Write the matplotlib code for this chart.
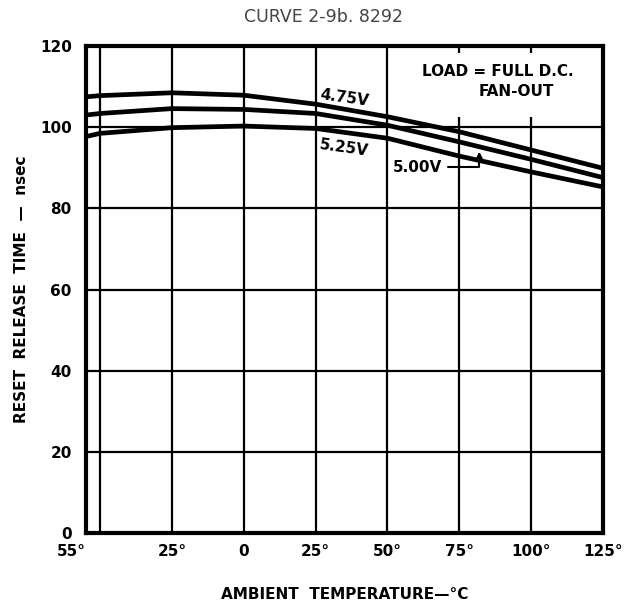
import numpy as np
import matplotlib
matplotlib.use("Agg")
import matplotlib.pyplot as plt
import matplotlib.transforms as mtransforms
from matplotlib.patches import Rectangle

# curve values
temps = [-55, -50, -25, 0, 25, 50, 75, 100, 125]
v475 = [107.5, 107.8, 108.5, 107.9, 105.7, 102.6, 98.9, 94.4, 89.9]
v500 = [103.0, 103.4, 104.6, 104.4, 103.4, 100.5, 96.4, 92.1, 87.6]
v525 = [97.7, 98.5, 99.9, 100.3, 99.7, 97.3, 92.9, 89.0, 85.3]

xgrid = [-50, -25, 0, 25, 50, 75, 100]
ygrid = [20, 40, 60, 80, 100]
xticks = [-55, -25, 0, 25, 50, 75, 100, 125]
xticklabels = ["55°", "25°", "0", "25°", "50°", "75°", "100°", "125°"]
yticks = [0, 20, 40, 60, 80, 100, 120]

fig = plt.figure(figsize=(6.4, 6.07), dpi=100)
ax = fig.add_axes([0.134, 0.122, 0.808, 0.802])
ax.set_xlim(-55, 125)
ax.set_ylim(0, 120)

for x in xgrid:
    ax.axvline(x, color="black", lw=1.6, zorder=1)
for y in ygrid:
    ax.axhline(y, color="black", lw=1.6, zorder=1)

# blank area behind the load note
ax.add_patch(Rectangle((52, 102.5), 72, 15.8, facecolor="white",
                       edgecolor="none", zorder=2))

for vals in (v475, v500, v525):
    ax.plot(temps, vals, color="black", lw=3.4, solid_capstyle="butt", zorder=3)

for s in ax.spines.values():
    s.set_linewidth(3)
    s.set_zorder(5)

ax.set_xticks(xticks)
ax.set_xticklabels(xticklabels, fontsize=11, fontweight="bold")
ax.set_yticks(yticks)
ax.set_yticklabels([str(v) for v in yticks], fontsize=11, fontweight="bold")
ax.tick_params(length=0, pad=8)
ax.tick_params(axis="y", pad=10)
lab0 = ax.get_xticklabels()[0]
lab0.set_transform(lab0.get_transform() + mtransforms.ScaledTranslation(-0.14, 0, fig.dpi_scale_trans))

ax.set_xlabel("AMBIENT  TEMPERATURE—°C", fontsize=11, fontweight="bold", labelpad=20)
ax.set_ylabel("RESET  RELEASE  TIME  —  nsec", fontsize=11, fontweight="bold", labelpad=8)

fig.text(0.505, 0.972, "CURVE 2-9b. 8292", ha="center", va="center",
         fontsize=12.5, color="#444444", family="DejaVu Sans")

ax.text(35, 107.3, "4.75V", fontsize=11, fontweight="bold", rotation=-8,
        ha="center", va="center", zorder=6)
ax.text(35, 94.9, "5.25V", fontsize=11, fontweight="bold", rotation=-8,
        ha="center", va="center", zorder=6)
ax.annotate("5.00V", xy=(82, 94.0), xytext=(60.6, 90.2), fontsize=11,
            fontweight="bold", ha="center", va="center", zorder=6,
            arrowprops=dict(arrowstyle="-|>", color="black", lw=1.5,
                            connectionstyle="angle,angleA=0,angleB=90,rad=0",
                            shrinkA=2, shrinkB=0))

ax.text(88.5, 113.8, "LOAD = FULL D.C.", fontsize=11, fontweight="bold",
        ha="center", va="center", zorder=6)
ax.text(95, 108.8, "FAN-OUT", fontsize=11, fontweight="bold",
        ha="center", va="center", zorder=6)

fig.savefig("out.png", dpi=100)
